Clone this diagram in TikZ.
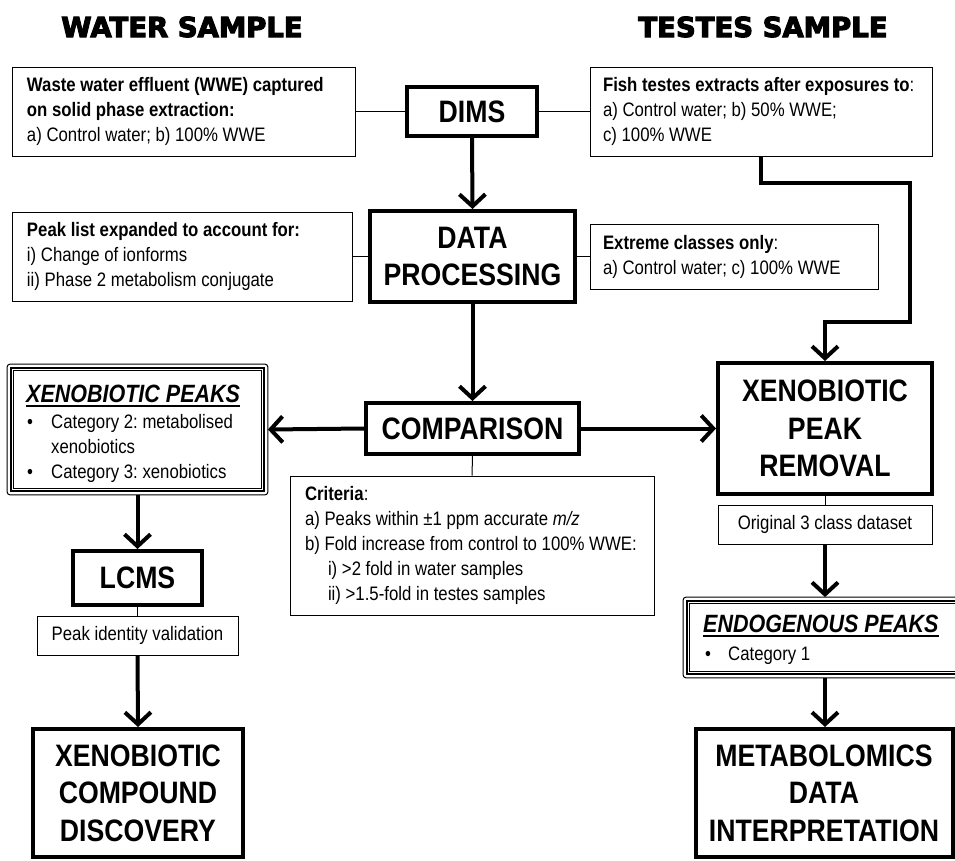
\documentclass[tikz,border=0pt]{standalone}
\usepackage{fontspec}
\setmainfont{Liberation Sans}[FakeStretch=0.86]
\newfontfamily\hdfont{DejaVu Sans}[BoldFeatures={FakeBold=4}]
\usetikzlibrary{arrows.meta}
\newcommand{\natsp}{\spaceskip=0pt\xspaceskip=0pt\relax}
\frenchspacing
\begin{document}
\begin{tikzpicture}[x=1pt,y=-1pt,
  txtbox/.style={draw, line width=1pt, inner ysep=0pt, font=\fontsize{19.5}{25}\selectfont, align=left},
  cbox/.style={draw, line width=1pt, inner sep=0pt, font=\fontsize{19.5}{25}\selectfont, align=center},
  bigbox/.style={draw, line width=4pt, inner sep=0pt, font=\fontsize{31}{37.5}\selectfont\bfseries, align=center},
  frame/.style={draw, line width=1.8pt, inner sep=0pt},
  conn/.style={line width=1pt},
  arr/.style={line width=4pt, line join=miter, -{Straight Barb[length=12pt,width=26pt]}},
  hdr/.style={font=\fontsize{27.5}{30}\selectfont\hdfont\bfseries, anchor=base, inner sep=0pt},
  small/.style={font=\fontsize{19.5}{25}\selectfont, inner sep=0pt, anchor=base west},
  phead/.style={font=\fontsize{25}{28}\selectfont\bfseries\itshape, inner sep=0pt, anchor=base west}
]
\useasboundingbox (0,0) rectangle (955,860);
\clip (0,0) rectangle (955,860);

% headers
\node[hdr] (hw) at (182,37) {WATER SAMPLE};
\node[hdr] (ht) at (763,37) {TESTES SAMPLE};

% top row
\node[txtbox, minimum width=343pt, minimum height=89pt, text width=313pt, inner xsep=15pt] (wwe) at (183.5,111.5)
  {\natsp\textbf{Waste water effluent (WWE) captured}\\\textbf{on solid phase extraction:}\\a) Control water; b) 100\% WWE};
\node[bigbox, minimum width=130pt, minimum height=49pt] (dims) at (472,111.5) {DIMS};
\node[txtbox, minimum width=342pt, minimum height=89pt, text width=316pt, inner xsep=13pt] (fish) at (761,111.5)
  {\natsp\textbf{Fish testes extracts after exposures to}:\\a) Control water; b) 50\% WWE;\\c) 100\% WWE};

% second row
\node[txtbox, minimum width=340pt, minimum height=89pt, text width=310pt, inner xsep=15pt] (peak) at (182,256.5)
  {\natsp\textbf{Peak list expanded to account for:}\\i) Change of ionforms\\ii) Phase 2 metabolism conjugate};
\node[bigbox, minimum width=205pt, minimum height=91pt] (dp) at (472.5,256.5) {DATA\\PROCESSING};
\node[txtbox, minimum width=288pt, minimum height=65pt, text width=262pt, inner xsep=13pt] (ext) at (734,256.5)
  {\natsp\textbf{Extreme classes only}:\\a) Control water; c) 100\% WWE};

% comparison row
\node[bigbox, minimum width=213pt, minimum height=51pt] (comp) at (472.5,428.5) {COMPARISON};
\node[bigbox, minimum width=214pt, minimum height=131pt] (xpr) at (825,428.5) {XENOBIOTIC\\PEAK\\REMOVAL};

% xenobiotic peaks box (triple border)
\node[frame, minimum width=253pt, minimum height=123pt] (xp) at (137.5,429.5) {};
\draw[line width=1pt, rounded corners=3pt] ([shift={(-3pt,3pt)}]xp.north west) rectangle ([shift={(3pt,-3pt)}]xp.south east);
\draw[line width=1pt] ([shift={(3pt,-3pt)}]xp.north west) rectangle ([shift={(-3pt,3pt)}]xp.south east);
\node[phead] (xph) at (26,402) {XENOBIOTIC PEAKS};
\draw[line width=1.6pt] ([yshift=-4pt]xph.base west) -- ([yshift=-4pt]xph.base east);
\node[small, anchor=base] (xb1) at (30,428) {•};
\node[small] (xt1) at (51,428) {Category 2: metabolised};
\node[small] (xt2) at (51,453) {xenobiotics};
\node[small, anchor=base] (xb2) at (30,478) {•};
\node[small] (xt3) at (51,478) {Category 3: xenobiotics};

% criteria
\node[txtbox, minimum width=364pt, minimum height=139pt, text width=334pt, inner xsep=15pt] (crit) at (472,545.5)
  {\natsp\textbf{Criteria}:\\a) Peaks within ±1 ppm accurate \textit{m/z}\\b) Fold increase from control to 100\% WWE:\\\hspace*{23pt}i) >2 fold in water samples\\\hspace*{23pt}ii) >1.5-fold in testes samples};

% right column lower
\node[cbox, minimum width=214pt, minimum height=39pt] (orig) at (825,524.5) {Original 3 class dataset};
\node[frame, minimum width=276pt, minimum height=73pt] (endo) at (825,637.5) {};
\draw[line width=1pt, rounded corners=3pt] ([shift={(-3pt,3pt)}]endo.north west) rectangle ([shift={(3pt,-3pt)}]endo.south east);
\draw[line width=1pt] ([shift={(3pt,-3pt)}]endo.north west) rectangle ([shift={(-3pt,3pt)}]endo.south east);
\node[phead] (eh) at (703,632) {ENDOGENOUS PEAKS};
\draw[line width=1.6pt] ([yshift=-4pt]eh.base west) -- ([yshift=-4pt]eh.base east);
\node[small, anchor=base] (eb1) at (708,660) {•};
\node[small] (et1) at (728,660) {Category 1};
\node[bigbox, minimum width=257pt, minimum height=128pt] (meta) at (824,793) {METABOLOMICS\\DATA\\INTERPRETATION};

% left column lower
\node[bigbox, minimum width=129pt, minimum height=54pt] (lcms) at (137.5,578) {LCMS};
\node[cbox, minimum width=201pt, minimum height=39pt] (pid) at (137.5,635.5) {Peak identity validation};
\node[bigbox, minimum width=210pt, minimum height=128pt] (xcd) at (138,793) {XENOBIOTIC\\COMPOUND\\DISCOVERY};

% thin connectors
\draw[conn] (wwe.east) -- (dims.west);
\draw[conn] (dims.east) -- (fish.west);
\draw[conn] (peak.east) -- (dp.west);
\draw[conn] (dp.east) -- (ext.west);
\draw[conn] (comp.south) -- (crit.north);
\draw[conn] (xpr.south) -- (orig.north);
\draw[conn] (lcms.south) -- (pid.north);

% thick arrows
\draw[arr] (dims.south) -- (dp.north);
\draw[arr] (dp.south) -- (comp.north);
\draw[arr] (comp.west) -- ([xshift=3pt]xp.east);
\draw[arr] (comp.east) -- (xpr.west);
\draw[arr] (fish.south) -- ++(0,26) -| (910,322) -| (xpr.north);
\draw[arr] ([yshift=-3pt]xp.south) -- (lcms.north);
\draw[arr] (pid.south) -- (xcd.north);
\draw[arr] (orig.south) -- ([yshift=3pt]endo.north);
\draw[arr] ([yshift=-3pt]endo.south) -- (endo.south |- meta.north);
\end{tikzpicture}
\end{document}
